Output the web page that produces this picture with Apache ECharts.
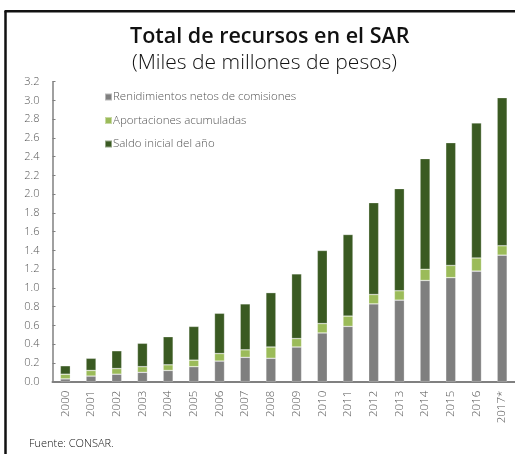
<!DOCTYPE html>
<html>
<head>
<meta charset="utf-8">
<script src="https://cdn.jsdelivr.net/npm/echarts@6/dist/echarts.min.js"></script>
<style>
  html, body { margin: 0; padding: 0; background: #fff; }
  #chart { width: 515px; height: 454px; }
</style>
</head>
<body>
<div id="chart"></div>
<script>
// Años (2017 preliminar)
const years = ['2000','2001','2002','2003','2004','2005','2006','2007','2008',
               '2009','2010','2011','2012','2013','2014','2015','2016','2017*'];

// Componentes del total, miles de millones de pesos
const rendimientos = [0.03,0.06,0.08,0.10,0.12,0.16,0.22,0.26,0.25,0.37,0.52,0.59,0.83,0.87,1.08,1.11,1.18,1.35];
const aportaciones = [0.05,0.06,0.06,0.06,0.06,0.07,0.08,0.08,0.12,0.09,0.10,0.11,0.10,0.10,0.12,0.13,0.14,0.10];
const saldoInicial = [0.09,0.13,0.19,0.25,0.30,0.36,0.43,0.49,0.58,0.69,0.78,0.87,0.98,1.09,1.18,1.31,1.44,1.58];

const seriesNames = ['Renidimientos netos de comisiones', 'Aportaciones acumuladas', 'Saldo inicial del año'];
const seriesColors = ['#7f7f7f', '#9bbb59', '#3a5a22'];

const FONT = '"Open Sans", "Noto Sans", sans-serif';
const LIGHT = 300;

const chart = echarts.init(document.getElementById('chart'), null, { renderer: 'canvas' });

function barSeries(name, data, color) {
  return {
    name: name,
    type: 'bar',
    stack: 'total',
    data: data,
    barWidth: 10,
    itemStyle: { color: color, borderColor: 'rgba(255,255,255,0.45)', borderWidth: 0.6 },
    emphasis: { disabled: true }
  };
}

chart.setOption({
  animation: false,
  backgroundColor: '#ffffff',
  title: [
    {
      text: 'Total de recursos en el SAR',
      left: 125, top: 21,
      textStyle: { fontFamily: FONT, fontSize: 21.5, fontWeight: 600, color: '#111' }
    },
    {
      text: '(Miles de millones de pesos)',
      left: 127, top: 48,
      textStyle: { fontFamily: FONT, fontSize: 21, fontWeight: LIGHT, color: '#111' }
    },
    {
      text: 'Fuente: CONSAR.',
      left: 24, top: 433,
      textStyle: { fontFamily: FONT, fontSize: 11, fontWeight: LIGHT, color: '#111' }
    }
  ],
  legend: {
    orient: 'vertical',
    left: 99, top: 86,
    itemWidth: 7, itemHeight: 7, itemGap: 11.5,
    icon: 'rect',
    selectedMode: false,
    data: seriesNames,
    textStyle: { fontFamily: FONT, fontSize: 11.5, fontWeight: LIGHT, color: '#555', padding: [0, 0, 0, -4] }
  },
  grid: { left: 52.5, right: -1.5, top: 81.7, bottom: 72.3 },
  xAxis: {
    type: 'category',
    data: years,
    axisLine: { lineStyle: { color: '#808080', width: 2 } },
    axisTick: { show: false },
    axisLabel: { rotate: 90, margin: 9, fontFamily: FONT, fontSize: 11.5, fontWeight: LIGHT, color: '#555' }
  },
  yAxis: {
    type: 'value',
    min: 0, max: 3.2, interval: 0.2,
    splitLine: { show: false },
    axisLine: { show: true, lineStyle: { color: '#808080', width: 1.5 } },
    axisTick: { show: true, inside: true, length: 3, lineStyle: { color: '#808080' } },
    axisLabel: {
      margin: 13, fontFamily: FONT, fontSize: 11, fontWeight: LIGHT, color: '#555',
      formatter: v => v.toFixed(1)
    }
  },
  graphic: [
    { type: 'line', shape: { x1: 5.5, y1: 11, x2: 5.5, y2: 454 }, style: { stroke: '#111', lineWidth: 2.5 } },
    { type: 'line', shape: { x1: 4.5, y1: 11.3, x2: 515, y2: 11.3 }, style: { stroke: '#111', lineWidth: 2.5 } }
  ],
  series: [
    barSeries(seriesNames[0], rendimientos, seriesColors[0]),
    barSeries(seriesNames[1], aportaciones, seriesColors[1]),
    barSeries(seriesNames[2], saldoInicial, seriesColors[2])
  ]
});
</script>
</body>
</html>
